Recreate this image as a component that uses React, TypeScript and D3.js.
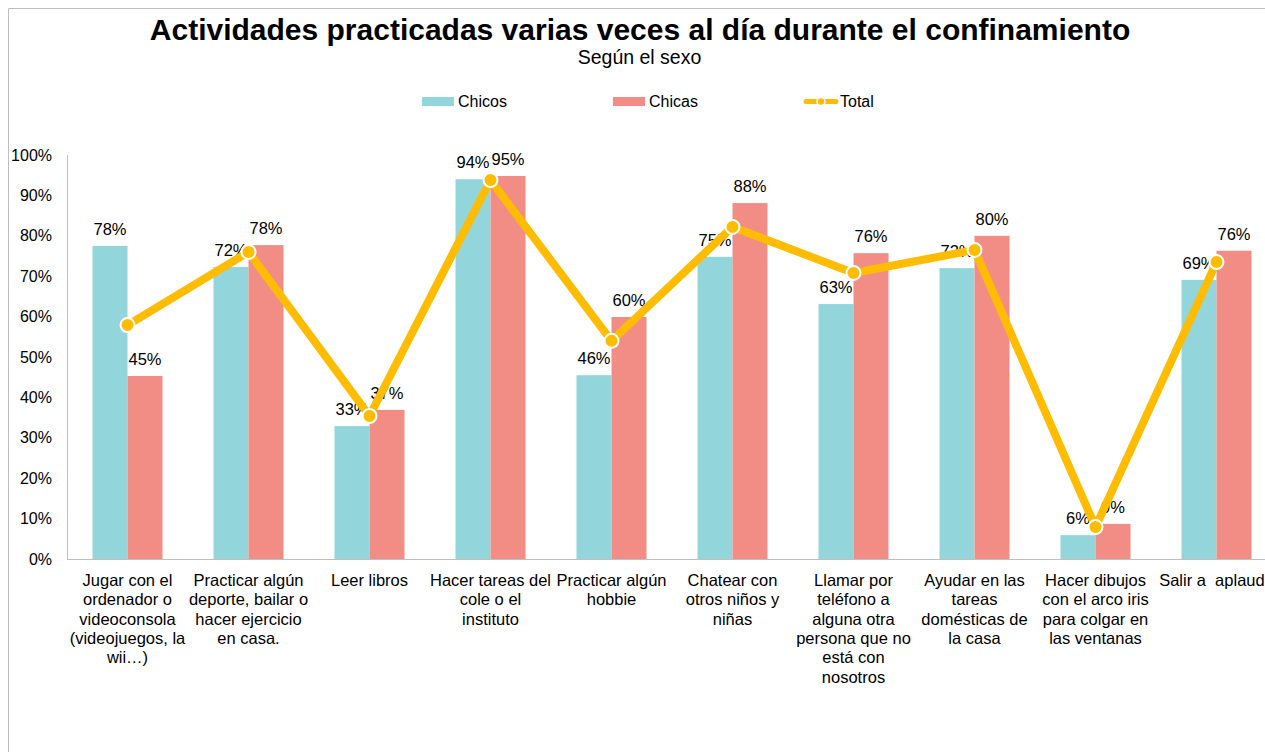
import { useMemo } from 'react';
import * as d3 from 'd3';

// Data
const categories = [
    'jugar', 'deporte', 'leer', 'tareas', 'hobbie',
    'chatear', 'llamar', 'ayudar', 'dibujos', 'aplaudir',
];

const categoryLabels: string[][] = [
    ['Jugar con el', 'ordenador o', 'videoconsola', '(videojuegos, la', 'wii…)'],
    ['Practicar algún', 'deporte, bailar o', 'hacer ejercicio', 'en casa.'],
    ['Leer libros'],
    ['Hacer tareas del', 'cole o el', 'instituto'],
    ['Practicar algún', 'hobbie'],
    ['Chatear con', 'otros niños y', 'niñas'],
    ['Llamar por', 'teléfono a', 'alguna otra', 'persona que no', 'está con', 'nosotros'],
    ['Ayudar en las', 'tareas', 'domésticas de', 'la casa'],
    ['Hacer dibujos', 'con el arco iris', 'para colgar en', 'las ventanas'],
    ['Salir a  aplaudir'],
];

const chicos = [0.775, 0.723, 0.329, 0.94, 0.455, 0.748, 0.631, 0.72, 0.059, 0.691];
const chicas = [0.453, 0.777, 0.369, 0.948, 0.599, 0.881, 0.757, 0.80, 0.087, 0.763];
const total = [0.579, 0.76, 0.354, 0.938, 0.54, 0.822, 0.708, 0.765, 0.079, 0.735];

const yTicks = [0, 0.1, 0.2, 0.3, 0.4, 0.5, 0.6, 0.7, 0.8, 0.9, 1];

const seriesNames = ['Chicos', 'Chicas'];
const seriesColors = ['#92D6DC', '#F28D86'];
const lineColor = '#FFBC00';

const W = 1265;
const H = 752;
const plotLeft = 67;
const plotTop = 155;
const plotBottom = 559;
const step = 121;

const font = '"Liberation Sans", Arial, sans-serif';

export default function App() {
    const { x, x1, y } = useMemo(() => {
        const x = d3.scaleBand<string>()
            .domain(categories)
            .range([plotLeft, plotLeft + step * categories.length])
            .paddingInner(51 / 121)
            .paddingOuter(51 / 242);
        const x1 = d3.scaleBand<string>()
            .domain(seriesNames)
            .range([0, x.bandwidth()]);
        const y = d3.scaleLinear().domain([0, 1]).range([plotBottom, plotTop]);
        return { x, x1, y };
    }, []);

    const pct = d3.format('.0%');
    const values = [chicos, chicas];

    const line = d3.line<number>()
        .x((_, i) => (x(categories[i]) ?? 0) + x.bandwidth() / 2)
        .y((d) => y(d));

    return (
        <svg
            width={W}
            height={H}
            style={{ position: 'absolute', left: 0, top: 0, background: 'white' }}
            fontFamily={font}
        >
            {/* chart frame */}
            <line x1={8.5} x2={W} y1={8.5} y2={8.5} stroke="#BDBDBD" />
            <line x1={8.5} x2={8.5} y1={8.5} y2={H} stroke="#BDBDBD" />

            <text x={640} y={40} textAnchor="middle" fontSize={30} fontWeight="bold" fill="#000">
                Actividades practicadas varias veces al día durante el confinamiento
            </text>
            <text x={639.5} y={64} textAnchor="middle" fontSize={19.5} fill="#000">
                Según el sexo
            </text>

            {/* legend */}
            <g fontSize={16} fill="#000">
                <rect x={422} y={97} width={32} height={9} fill={seriesColors[0]} />
                <text x={458} y={107}>Chicos</text>
                <rect x={613} y={97} width={32} height={9} fill={seriesColors[1]} />
                <text x={649} y={107}>Chicas</text>
                <line x1={806} x2={836} y1={101.5} y2={101.5} stroke={lineColor} strokeWidth={5} strokeLinecap="round" />
                <circle cx={821} cy={101.5} r={4} fill={lineColor} stroke="white" strokeWidth={1.5} />
                <text x={840} y={107}>Total</text>
            </g>

            {/* y axis */}
            <line x1={plotLeft + 0.5} x2={plotLeft + 0.5} y1={plotTop} y2={plotBottom} stroke="#BFBFBF" />
            {yTicks.map((t) => (
                <text key={t} x={52} y={y(t) + 5.5} textAnchor="end" fontSize={16} fill="#000">
                    {pct(t)}
                </text>
            ))}

            {/* bars */}
            {categories.map((c, i) => (
                <g key={c}>
                    {values.map((vals, s) => (
                        <rect
                            key={s}
                            x={(x(c) ?? 0) + (x1(seriesNames[s]) ?? 0)}
                            y={y(vals[i])}
                            width={x1.bandwidth()}
                            height={plotBottom - y(vals[i])}
                            fill={seriesColors[s]}
                        />
                    ))}
                </g>
            ))}

            {/* x axis */}
            <line x1={plotLeft} x2={W} y1={plotBottom + 0.5} y2={plotBottom + 0.5} stroke="#BFBFBF" />
            {categories.map((c, i) => (
                <text key={c} textAnchor="middle" fontSize={16.5} fill="#000" style={{ whiteSpace: 'pre' }}>
                    {categoryLabels[i].map((ln, j) => (
                        <tspan key={j} x={(x(c) ?? 0) + x.bandwidth() / 2} y={586 + j * 19.3}>{ln}</tspan>
                    ))}
                </text>
            ))}

            {/* bar value labels */}
            {categories.map((c, i) => (
                <g key={c}>
                    {values.map((vals, s) => (
                        <text
                            key={s}
                            x={(x(c) ?? 0) + (x1(seriesNames[s]) ?? 0) + x1.bandwidth() / 2}
                            y={y(vals[i]) - 11}
                            textAnchor="middle"
                            fontSize={16.5}
                            fill="#000"
                        >
                            {pct(Math.round(vals[i] * 100) / 100)}
                        </text>
                    ))}
                </g>
            ))}

            {/* total line */}
            <path d={line(total) ?? ''} fill="none" stroke={lineColor} strokeWidth={8} strokeLinejoin="round" />
            {total.map((v, i) => (
                <circle
                    key={i}
                    cx={(x(categories[i]) ?? 0) + x.bandwidth() / 2}
                    cy={y(v)}
                    r={7}
                    fill={lineColor}
                    stroke="white"
                    strokeWidth={2}
                />
            ))}
        </svg>
    );
}
